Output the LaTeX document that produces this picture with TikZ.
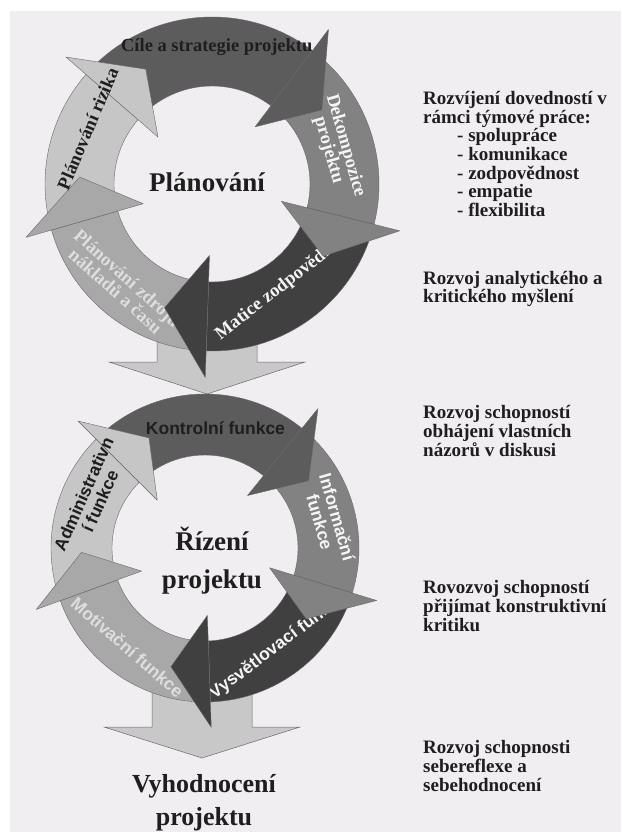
\documentclass[tikz,border=0pt]{standalone}
\usepackage{fontspec}
\setmainfont{Liberation Serif}
\newfontfamily\sansb{Liberation Sans}
\usetikzlibrary{positioning}
\definecolor{pagebg}{RGB}{241,238,241}
\definecolor{cdark}{RGB}{92,92,92}
\definecolor{cdarker}{RGB}{64,64,64}
\definecolor{cmid}{RGB}{130,130,130}
\definecolor{clight}{RGB}{168,168,168}
\definecolor{cpale}{RGB}{198,198,198}
\definecolor{arrowfill}{RGB}{200,200,200}
\definecolor{edgegray}{RGB}{105,105,105}
\definecolor{textdark}{RGB}{30,30,30}
\definecolor{textwhite}{RGB}{245,245,245}
\definecolor{textpale}{RGB}{222,222,222}
\tikzstyle{ring} = [draw=edgegray, line width=0.4pt, line join=round]
\tikzstyle{downarrow} = [fill=arrowfill, draw=edgegray, line width=0.5pt]
\tikzstyle{ringtext} = [inner sep=0pt, align=center, font=\bfseries\fontsize{18.5}{17.5}\selectfont]
\tikzstyle{sanstext} = [inner sep=0pt, align=center, font=\sansb\bfseries\fontsize{17.5}{18}\selectfont]
\tikzstyle{bigtitle} = [inner sep=0pt, align=center, text=textdark, font=\bfseries\fontsize{27}{38}\selectfont]
\tikzstyle{sidetext} = [inner sep=0pt, align=left, anchor=west, text=textdark, font=\bfseries\fontsize{19}{18.7}\selectfont]
% ring piece: centre, from, to, inner radius, outer radius, colour
\newcommand{\arcbody}[6]{\filldraw[ring, fill=#6] ([shift={(#2:#5)}]#1) arc[start angle=#2, end angle=#3, radius=#5] -- ([shift={(#3:#4)}]#1) arc[start angle=#3, end angle=#2, radius=#4] -- cycle;}
% arrow head: centre, base angle, mid radius, half width, sweep, colour
\newcommand{\archead}[6]{\filldraw[ring, fill=#6] ([shift={(#2:#3-#4)}]#1) -- ([shift={(#2:#3+#4)}]#1) -- ([shift={(#2-#5:#3)}]#1) -- cycle;}
% block arrow: x, top of shaft, head base, tip
\newcommand{\downarrowshape}[4]{\filldraw[downarrow] (#1-50,#2) -- (#1-50,#3) -- (#1-98,#3) -- (#1,#4) -- (#1+98,#3) -- (#1+50,#3) -- (#1+50,#2) -- cycle;}
\begin{document}
\begin{tikzpicture}[x=1pt, y=1pt]
\useasboundingbox (0,0) rectangle (621,-832);
\fill[white] (0,0) rectangle (621,-832);
\fill[pagebg] (10,-11) rectangle (621,-832);

\coordinate (c1) at (212,-184);
\coordinate (c2) at (205,-548);

% block arrows between the cycles
\downarrowshape{207}{-300}{-362}{-394}
\downarrowshape{202}{-660}{-727}{-758}

% Planovani cycle
\arcbody{c1}{139}{53}{98}{167}{cdark}
\arcbody{c1}{53}{-14}{98}{167}{cmid}
\arcbody{c1}{-14}{-92}{98}{167}{cdarker}
\arcbody{c1}{-92}{-164}{98}{167}{clight}
\arcbody{c1}{196}{139}{98}{167}{cpale}

% Rizeni cycle
\arcbody{c2}{135}{51}{93}{154}{cdark}
\arcbody{c2}{51}{-17}{93}{154}{cmid}
\arcbody{c2}{-17}{-88}{93}{154}{cdarker}
\arcbody{c2}{-88}{-160}{93}{154}{clight}
\arcbody{c2}{200}{135}{93}{154}{cpale}

% labels partly covered by the next head
\node (matice) [ringtext, text=textwhite, rotate=38] at ([shift={(-53.5:124)}]c1) {Matice zodpovědnosti};
\node (zdroje) [ringtext, text=textpale, rotate=-42] at ([shift={(-132:135)}]c1) {Plánování zdrojů\\nákladů a času};
\node (vysvetlovaci) [sanstext, text=textwhite, rotate=37] at ([shift={(-53:122)}]c2) {Vysvětlovací funkce};
\node (motivacni) [sanstext, text=textpale, rotate=-41] at ([shift={(-128:126)}]c2) {Motivační funkce};

% arrow heads
\archead{c1}{53}{132.5}{61}{19}{cdark}
\archead{c1}{-14}{132.5}{61}{19}{cmid}
\archead{c1}{-92}{132.5}{61}{19}{cdarker}
\archead{c1}{-164}{132.5}{61}{19}{clight}
\archead{c1}{139}{132.5}{61}{19}{cpale}

\archead{c2}{51}{123.5}{56}{18}{cdark}
\archead{c2}{-17}{123.5}{56}{18}{cmid}
\archead{c2}{-88}{123.5}{56}{18}{cdarker}
\archead{c2}{-160}{123.5}{56}{18}{clight}
\archead{c2}{135}{123.5}{56}{18}{cpale}

% labels lying over their own heads
\node (cile) [ringtext, text=textdark] at ([shift={(88:137)}]c1) {Cíle a strategie projektu};
\node (dekompozice) [ringtext, text=textwhite, rotate=-74] at ([shift={(16:130)}]c1) {Dekompozice\\projektu};
\node (rizika) [ringtext, text=textdark, rotate=67] at ([shift={(156:136)}]c1) {Plánování rizika};

\node (kontrolni) [sanstext, text=textdark] at ([shift={(85:120)}]c2) {Kontrolní funkce};
\node (informacni) [sanstext, text=textwhite, rotate=-74] at ([shift={(13:127)}]c2) {Informační\\funkce};
\node (administrativni) [sanstext, text=textdark, rotate=66] at ([shift={(156:124)}]c2) {Administrativn\\í funkce};

% titles
\node (planovani) [bigtitle] at (207,-182) {Plánování};
\node (rizeni) [bigtitle] at (212,-561) {Řízení\\projektu};
\node (vyhodnoceni) [bigtitle, font=\bfseries\fontsize{26}{33}\selectfont] at (204,-803) {Vyhodnocení\\projektu};

% skills on the right
\node (teamwork) [sidetext] at (423,-154) {Rozvíjení dovedností v\\rámci týmové práce:\\\hspace*{34pt}- spolupráce\\\hspace*{34pt}- komunikace\\\hspace*{34pt}- zodpovědnost\\\hspace*{34pt}- empatie\\\hspace*{34pt}- flexibilita};
\node (analytic) [sidetext] at (423,-289) {Rozvoj analytického a\\kritického myšlení};
\node (defend) [sidetext] at (423,-431) {Rozvoj schopností\\obhájení vlastních\\názorů v diskusi};
\node (critique) [sidetext] at (423,-606) {Rovozvoj schopností\\přijímat konstruktivní\\kritiku};
\node (reflexion) [sidetext] at (423,-766) {Rozvoj schopnosti\\sebereflexe a\\sebehodnocení};

\end{tikzpicture}
\end{document}
